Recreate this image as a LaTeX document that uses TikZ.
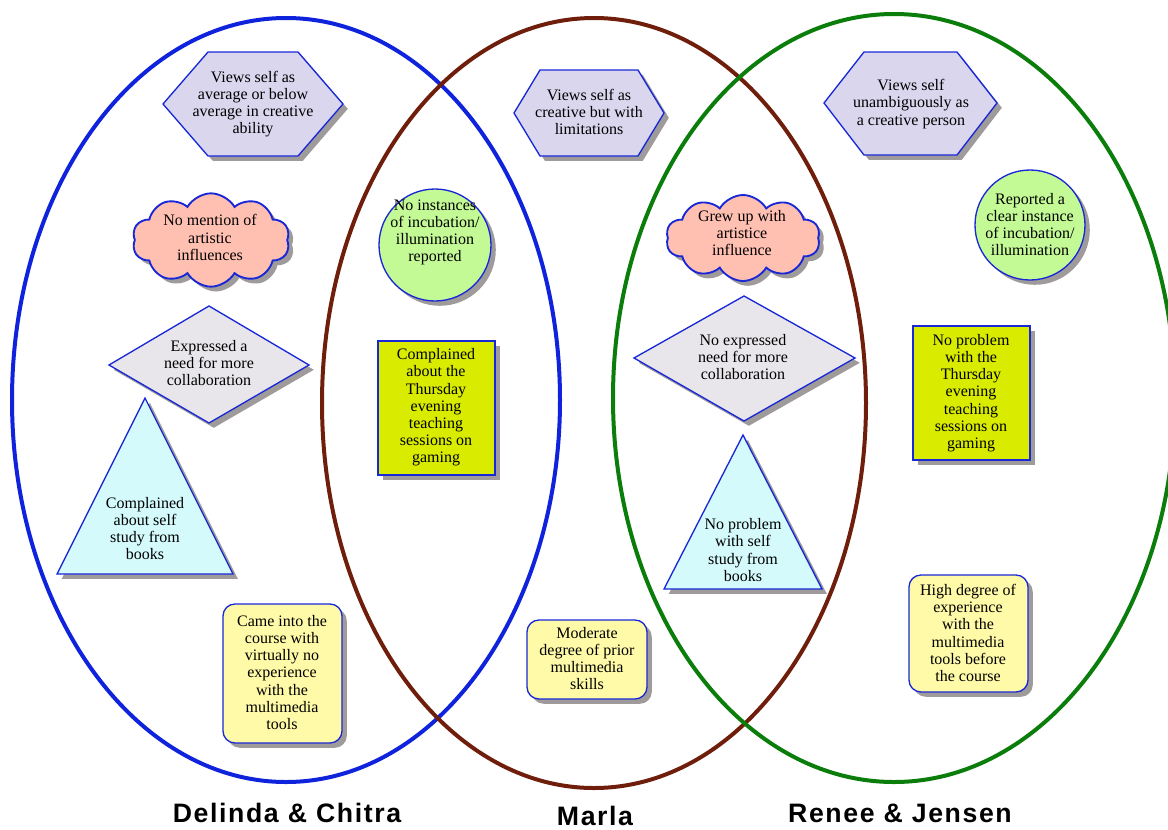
\documentclass[tikz,border=0pt]{standalone}
\usepackage{fontspec}
\setmainfont{Liberation Serif}
\newfontfamily\labelfont[LetterSpace=6]{Liberation Sans}
\usetikzlibrary{shapes.symbols,shadows}

\definecolor{edgeblue}{RGB}{25,40,215}
\definecolor{hexfill}{RGB}{218,214,238}
\definecolor{cloudfill}{RGB}{255,192,178}
\definecolor{circfill}{RGB}{195,250,150}
\definecolor{diafill}{RGB}{232,230,234}
\definecolor{trifill}{RGB}{212,250,252}
\definecolor{rectfill}{RGB}{217,236,0}
\definecolor{notefill}{RGB}{255,250,168}
\definecolor{shadowgray}{RGB}{160,155,155}
\definecolor{setblue}{RGB}{15,35,220}
\definecolor{setbrown}{RGB}{110,30,10}
\definecolor{setgreen}{RGB}{10,125,10}

\tikzset{
  setline/.style={line width=3pt},
  item/.style={draw=edgeblue, line width=1pt, line join=miter,
    drop shadow={shadow xshift=3.6pt, shadow yshift=-3.6pt, opacity=1, fill=shadowgray}},
  hexitem/.style={item, fill=hexfill},
  clouditem/.style={item, fill=cloudfill, line width=1.4pt, cloud, cloud puffs=10,
    cloud puff arc=120, cloud ignores aspect, inner sep=0pt},
  circitem/.style={item, fill=circfill},
  diaitem/.style={item, fill=diafill},
  triitem/.style={item, fill=trifill},
  rectitem/.style={item, fill=rectfill},
  noteitem/.style={item, fill=notefill, rounded corners=9pt},
  txt/.style={align=center, inner sep=0pt, font=\fontsize{12}{12.9}\selectfont},
  setname/.style={anchor=base, font=\labelfont\bfseries\fontsize{20}{24}\selectfont}
}

\begin{document}
\begin{tikzpicture}[x=0.75pt, y=-0.75pt]
\useasboundingbox (0,0) rectangle (1168,829);

% the three sets
\draw[setline, setblue]  (286,400) ellipse [x radius=274, y radius=382];
\draw[setline, setbrown] (594,403) ellipse [x radius=272, y radius=385];
\draw[setline, setgreen] (894,398) ellipse [x radius=281, y radius=384];

% hexagons: self view
\filldraw[hexitem] (163,104) -- (208,52) -- (298,52) -- (343,104) -- (298,156) -- (208,156) -- cycle;
\node[txt] (hexa) at (253,104) {Views self as\\average or below\\average in creative\\ability};
\filldraw[hexitem] (514,113) -- (540,70) -- (638,70) -- (664,113) -- (638,156) -- (540,156) -- cycle;
\node[txt] (hexb) at (589,112) {Views self as\\creative but with\\limitations};
\filldraw[hexitem] (824,103) -- (864,52) -- (957,52) -- (997,103) -- (957,155) -- (864,155) -- cycle;
\node[txt] (hexc) at (911,104) {Views self\\unambiguously as\\a creative person};

% clouds: artistic influence
\node[clouditem, minimum width=118pt, minimum height=70pt] (clouda) at (211,240) {};
\node[txt] (clouda-t) at (210,237.5) {No mention of\\artistic\\influences};
\node[clouditem, minimum width=115.5pt, minimum height=64.5pt] (cloudb) at (743,238) {};
\node[txt] (cloudb-t) at (742,233) {Grew up with\\artistice\\influence};

% circles: incubation / illumination
\filldraw[circitem] (435,245) circle [radius=56];
\node[txt] (circa) at (435,232.5) {No instances\\of incubation/\\illumination\\reported};
\filldraw[circitem] (1030,225) circle [radius=55];
\node[txt] (circb) at (1030,224.5) {Reported a\\clear instance\\of incubation/\\illumination};

% diamonds: collaboration
\filldraw[diaitem] (109,365) -- (209,306) -- (309,365) -- (209,423) -- cycle;
\node[txt] (diaa) at (209,363) {Expressed a\\need for more\\collaboration};
\filldraw[diaitem] (634,358) -- (744,296) -- (855,358) -- (744,421) -- cycle;
\node[txt] (diab) at (743,357) {No expressed\\need for more\\collaboration};

% triangles: self study
\filldraw[triitem] (145,398) -- (233,574) -- (57,574) -- cycle;
\node[txt] (tria) at (145,528.5) {Complained\\about self\\study from\\books};
\filldraw[triitem] (743,435) -- (822,589) -- (664,589) -- cycle;
\node[txt] (trib) at (743,550) {No problem\\with self\\study from\\books};

% rectangles: Thursday sessions
\filldraw[rectitem] (378,341) rectangle (495,475);
\node[txt] (recta) at (436,407.5) {Complained\\about the\\Thursday\\evening\\teaching\\sessions on\\gaming};
\filldraw[rectitem] (913,326) rectangle (1030,460);
\node[txt] (rectb) at (971,393) {No problem\\with the\\Thursday\\evening\\teaching\\sessions on\\gaming};

% notes: prior multimedia experience
\filldraw[noteitem] (223,604) rectangle (342,743);
\node[txt] (notea) at (282,672.5) {Came into the\\course with\\virtually no\\experience\\with the\\multimedia\\tools};
\filldraw[noteitem] (527,620) rectangle (647,699);
\node[txt] (noteb) at (587,658.5) {Moderate\\degree of prior\\multimedia\\skills};
\filldraw[noteitem] (909,575) rectangle (1028,692);
\node[txt] (notec) at (968,633) {High degree of\\experience\\with the\\multimedia\\tools before\\the course};

% set names
\node[setname] (namea) at (287,822) {Delinda \& Chitra};
\node[setname] (nameb) at (595,825) {Marla};
\node[setname] (namec) at (900,822) {Renee \& Jensen};
\end{tikzpicture}
\end{document}
